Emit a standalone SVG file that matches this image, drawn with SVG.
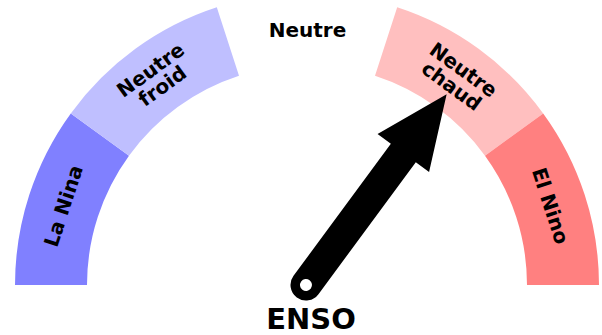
<svg xmlns="http://www.w3.org/2000/svg" width="602" height="335" viewBox="0 0 602 335">
<style>
text{font-family:"DejaVu Sans","Liberation Sans",sans-serif;font-weight:bold;fill:#000;text-anchor:middle}
.lbl{font-size:20px}
.title{font-size:29px}
</style>
<rect width="602" height="335" fill="#fff"/>
<g id="la-nina">
<path d="M15,285 A292,292 0 0 1 70.8,113.4 L129,155.7 A220,220 0 0 0 87,285 Z" fill="#8080ff"/>
<text class="lbl" transform="translate(63.5,205.9) rotate(-72)" y="7">La Nina</text>
</g>
<g id="neutre-froid">
<path d="M70.8,113.4 A292,292 0 0 1 216.8,7.3 L239,75.8 A220,220 0 0 0 129,155.7 Z" fill="#bfbfff"/>
<text class="lbl" transform="translate(156.5,77.9) rotate(-36)"><tspan x="0" y="-3">Neutre</tspan><tspan x="0" y="17">froid</tspan></text>
</g>
<g id="neutre">
<text class="lbl" x="307.5" y="37">Neutre</text>
</g>
<g id="neutre-chaud">
<path d="M397.2,7.3 A292,292 0 0 1 543.2,113.4 L485,155.7 A220,220 0 0 0 375,75.8 Z" fill="#ffbfbf"/>
<text class="lbl" transform="translate(457.5,77.9) rotate(36)"><tspan x="0" y="-3">Neutre</tspan><tspan x="0" y="17">chaud</tspan></text>
</g>
<g id="el-nino">
<path d="M543.2,113.4 A292,292 0 0 1 599,285 L527,285 A220,220 0 0 0 485,155.7 Z" fill="#ff8080"/>
<text class="lbl" transform="translate(550.5,205.9) rotate(72)" y="7">El Nino</text>
</g>
<g id="connectors">
<g id="needle" transform="translate(306,285) rotate(-53.6)">
<path d="M0,-15.5 L164,-15.5 L164,-32 L237,0 L164,32 L164,15.5 L0,15.5 A15.5,15.5 0 0 1 0,-15.5 Z" fill="#000"/>
<circle cx="0" cy="0" r="6" fill="#fff"/>
</g>
</g>
<g id="enso">
<text class="title" x="311" y="329">ENSO</text>
</g>
</svg>
